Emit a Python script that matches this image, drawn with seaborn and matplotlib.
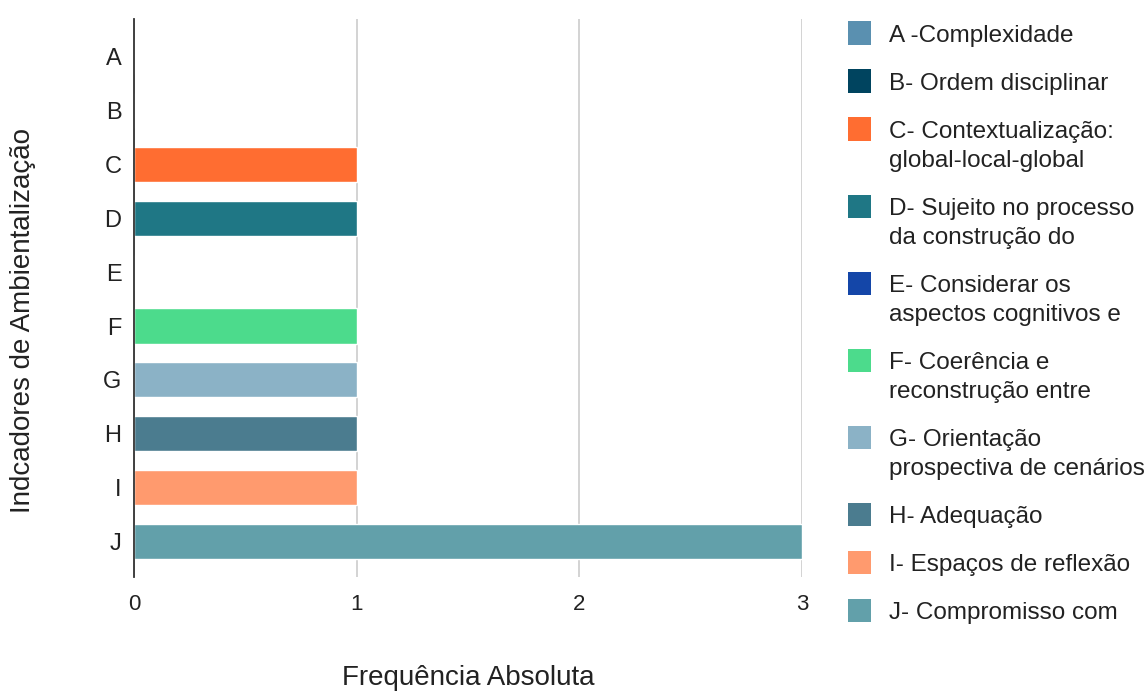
import matplotlib
matplotlib.use("Agg")
import matplotlib.pyplot as plt
from matplotlib.patches import Rectangle
import seaborn as sns
import pandas as pd

categories = ["A", "B", "C", "D", "E", "F", "G", "H", "I", "J"]
frequencies = [0, 0, 1, 1, 0, 1, 1, 1, 1, 3]
legend_labels = [
    "A -Complexidade",
    "B- Ordem disciplinar",
    "C- Contextualização:\nglobal-local-global",
    "D- Sujeito no processo\nda construção do",
    "E- Considerar os\naspectos cognitivos e",
    "F- Coerência e\nreconstrução entre",
    "G- Orientação\nprospectiva de cenários",
    "H- Adequação",
    "I- Espaços de reflexão",
    "J- Compromisso com",
]
colors = ["#5A90B0", "#00445F", "#FF6D31", "#1F7785", "#1446A8",
          "#4CDB8C", "#8BB2C6", "#4B7C8F", "#FF9A6E", "#62A0AA"]
x_ticks = [0, 1, 2, 3]

sns.set_theme(style="white")
plt.rcParams["font.family"] = ["Liberation Sans", "DejaVu Sans"]

TEXT = "#222222"
W, H = 1147, 691

df = pd.DataFrame({"Indicador": categories, "Frequencia": frequencies})

fig = plt.figure(figsize=(W / 100, H / 100), dpi=100)
ax = fig.add_axes([0.1168, 0.165, 0.5824, 0.8075])

sns.barplot(data=df, y="Indicador", x="Frequencia", hue="Indicador",
            palette=dict(zip(categories, colors)), order=categories,
            orient="h", width=0.65, legend=False, saturation=1, ax=ax)

ax.set_xlim(0, 3)
ax.set_ylim(9.66, -0.70)
ax.set_xticks(x_ticks)
ax.set_xticklabels([str(t) for t in x_ticks], fontsize=16, color=TEXT)
ax.tick_params(axis="y", labelsize=17, colors=TEXT, length=0, pad=9)
ax.tick_params(axis="x", length=0, pad=12)
ax.xaxis.grid(True, color="#cccccc", linewidth=1.2)
ax.set_axisbelow(True)
for side in ["top", "right", "bottom"]:
    ax.spines[side].set_visible(False)
ax.spines["left"].set_color("#333333")
ax.spines["left"].set_linewidth(1.3)
ax.spines["left"].set_zorder(5)

ax.set_xlabel("Frequência Absoluta", fontsize=20, color=TEXT)
ax.xaxis.set_label_coords(0.5, -0.157)
ax.set_ylabel("Indcadores de Ambientalização", fontsize=20, color=TEXT)
ax.yaxis.set_label_coords(-0.147, 0.46)

# Legend: colour square beside the first line of each (possibly wrapped) label
leg_size = 17.5
line_center = 33.0          # pixels from the top of the figure
line_step, entry_step = 29.0, 48.0
sq = 23.0
for label, color in zip(legend_labels, colors):
    lines = label.split("\n")
    fig.add_artist(Rectangle(((848) / W, 1 - (line_center + sq / 2) / H),
                             sq / W, sq / H, transform=fig.transFigure,
                             facecolor=color, edgecolor="none"))
    for k, line in enumerate(lines):
        yc = line_center + k * line_step
        fig.text(889 / W, 1 - (yc + 0.36 * leg_size * 100 / 72) / H, line,
                 fontsize=leg_size, color=TEXT, ha="left", va="baseline")
    line_center += entry_step + line_step * (len(lines) - 1)

fig.savefig("out.png", dpi=100)
